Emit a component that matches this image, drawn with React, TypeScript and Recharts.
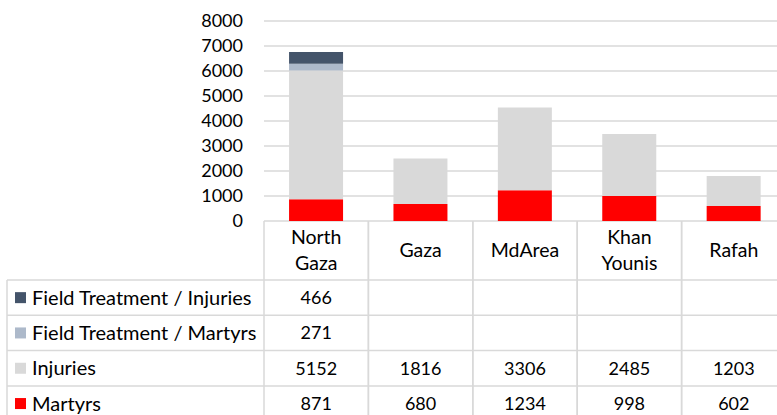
import React from 'react'
import { BarChart, Bar, XAxis, YAxis, CartesianGrid } from 'recharts'

const categories = ['North Gaza', 'Gaza', 'MdArea', 'Khan Younis', 'Rafah']
const martyrs = [871, 680, 1234, 998, 602]
const injuries = [5152, 1816, 3306, 2485, 1203]
const fieldMartyrs = [271, null, null, null, null]
const fieldInjuries = [466, null, null, null, null]
const yTicks = [0, 1000, 2000, 3000, 4000, 5000, 6000, 7000, 8000]

// stack order bottom -> top
const series = [
  { key: 'martyrs', name: 'Martyrs', values: martyrs },
  { key: 'injuries', name: 'Injuries', values: injuries },
  { key: 'fieldMartyrs', name: 'Field Treatment / Martyrs', values: fieldMartyrs },
  { key: 'fieldInjuries', name: 'Field Treatment / Injuries', values: fieldInjuries },
]

const colors: Record<string, string> = {
  martyrs: '#FF0000',
  injuries: '#D9D9D9',
  fieldMartyrs: '#ADB9CA',
  fieldInjuries: '#44546A',
}

const data = categories.map((name, i) => {
  const row: any = { name }
  series.forEach((s) => {
    row[s.key] = s.values[i]
  })
  return row
})

const CHART_W = 790
const CHART_H = 425
const PLOT_LEFT = 264
const PLOT_RIGHT = 786
const BAND = (PLOT_RIGHT - PLOT_LEFT) / categories.length
const HEADER_H = 59
const ROW_H = 35.3
const LEGEND_LEFT = 7
const GRID = '#D9D9D9'
const FONT = 'Lato, sans-serif'
const NUM_SIZE = 18
const LABEL_SIZE = 19.5
const LEGEND_SIZE = 20

const tableRows = [...series].reverse()

const TableTick = (props: any) => {
  const { x, y, payload } = props
  const index = payload.index
  const left = x - BAND / 2
  const right = x + BAND / 2
  const bottom = y + HEADER_H + ROW_H * tableRows.length
  const lines = String(payload.value).split(' ')
  const lineH = 26
  const firstY = y + HEADER_H / 2 - ((lines.length - 1) * lineH) / 2

  return (
    <g fontFamily={FONT} fill="#000">
      {lines.map((l, k) => (
        <text key={k} x={x} y={firstY + k * lineH} textAnchor="middle" dy="0.35em" fill="#000" fontSize={LABEL_SIZE}>
          {l}
        </text>
      ))}
      <line x1={left} x2={left} y1={y} y2={bottom} stroke={GRID} strokeWidth={1.5} />
      <line x1={right} x2={right} y1={y} y2={bottom} stroke={GRID} strokeWidth={1.5} />
      {tableRows.map((s, r) => {
        const top = y + HEADER_H + r * ROW_H
        const v = s.values[index]
        return (
          <g key={s.key}>
            <line x1={left} x2={right} y1={top} y2={top} stroke={GRID} strokeWidth={1.5} />
            {v != null && (
              <text x={x} y={top + ROW_H / 2} textAnchor="middle" dy="0.35em" fill="#000" fontSize={NUM_SIZE}>
                {v}
              </text>
            )}
          </g>
        )
      })}
      <line x1={left} x2={right} y1={bottom} y2={bottom} stroke={GRID} strokeWidth={1.5} />
      {index === 0 && (
        <g>
          <line x1={LEGEND_LEFT} x2={LEGEND_LEFT} y1={y + HEADER_H} y2={bottom} stroke={GRID} strokeWidth={1.5} />
          {tableRows.map((s, r) => {
            const top = y + HEADER_H + r * ROW_H
            return (
              <g key={s.key}>
                <line x1={LEGEND_LEFT} x2={left} y1={top} y2={top} stroke={GRID} strokeWidth={1.5} />
                <rect x={15} y={top + ROW_H / 2 - 5.5} width={11} height={11} fill={colors[s.key]} />
                <text x={32} y={top + ROW_H / 2} dy="0.35em" fill="#000" fontSize={LEGEND_SIZE}>
                  {s.name}
                </text>
              </g>
            )
          })}
        </g>
      )}
    </g>
  )
}

export default function App() {
  return (
    <div style={{ position: 'absolute', left: 0, top: 0, width: 777, height: 415, overflow: 'hidden', background: '#fff' }}>
      <BarChart
        width={CHART_W}
        height={CHART_H}
        data={data}
        margin={{ top: 21, right: CHART_W - PLOT_RIGHT, left: 0, bottom: 0 }}
        barCategoryGap="24%"
      >
        <CartesianGrid vertical={false} stroke={GRID} strokeWidth={1.5} />
        <XAxis
          dataKey="name"
          height={CHART_H - 221}
          axisLine={false}
          tickLine={false}
          tickSize={0}
          tickMargin={0}
          interval={0}
          tick={(p: any) => <TableTick {...p} />}
        />
        <YAxis
          width={PLOT_LEFT}
          domain={[0, 8000]}
          ticks={yTicks}
          interval={0}
          axisLine={false}
          tickLine={false}
          tickSize={6}
          tickMargin={15}
          tick={{ fill: '#000', fontFamily: FONT, fontSize: NUM_SIZE }}
        />
        {series.map((s) => (
          <Bar
            key={s.key}
            dataKey={s.key}
            name={s.name}
            stackId="a"
            fill={colors[s.key]}
            isAnimationActive={false}
          />
        ))}
      </BarChart>
    </div>
  )
}
